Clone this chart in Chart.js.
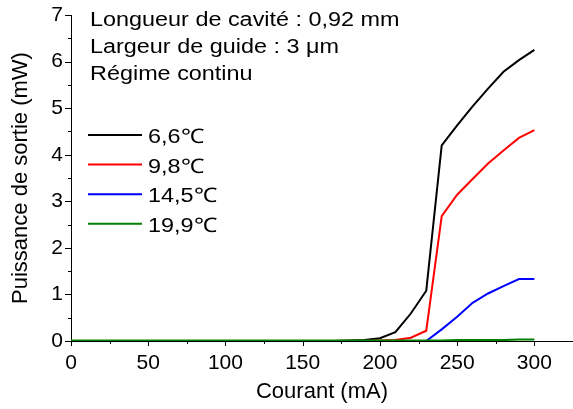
<!DOCTYPE html>
<html>
<head>
<meta charset="utf-8">
<script src="https://cdn.jsdelivr.net/npm/chart.js@4"></script>
<style>
  html, body { margin: 0; padding: 0; background: #fff; }
  #wrap { width: 573px; height: 409px; }
</style>
</head>
<body>
<div id="wrap"><canvas id="powerChart"></canvas></div>
<script>
// Current (mA)
const current = [0, 10, 20, 30, 40, 50, 60, 70, 80, 90, 100, 110, 120, 130, 140, 150,
  160, 170, 180, 190, 200, 210, 220, 230, 240, 250, 260, 270, 280, 290, 300];

// Output power (mW) for each temperature
const p66 = [0, 0, 0, 0, 0, 0, 0, 0, 0, 0, 0, 0, 0, 0, 0, 0,
  0, 0, 0.01, 0.02, 0.06, 0.19, 0.59, 1.08, 4.2, 4.63, 5.04, 5.42, 5.78, 6.03, 6.25];
const p98 = [0, 0, 0, 0, 0, 0, 0, 0, 0, 0, 0, 0, 0, 0, 0, 0,
  0, 0, 0, 0, 0.01, 0.02, 0.07, 0.22, 2.68, 3.14, 3.48, 3.81, 4.09, 4.36, 4.53];
const p145 = [0, 0, 0, 0, 0, 0, 0, 0, 0, 0, 0, 0, 0, 0, 0, 0,
  0, 0, 0, 0, 0, 0, 0, 0, 0.25, 0.52, 0.82, 1.02, 1.18, 1.33, 1.33];
const p199 = [0.01, 0.01, 0.01, 0.01, 0.01, 0.01, 0.01, 0.01, 0.01, 0.01, 0.01, 0.01, 0.01, 0.01, 0.01, 0.01,
  0.01, 0.01, 0.01, 0.01, 0.01, 0.01, 0.01, 0.01, 0.01, 0.02, 0.02, 0.02, 0.02, 0.03, 0.03];

const seriesLabels = ['6,6\u2103', '9,8\u2103', '14,5\u2103', '19,9\u2103'];
const seriesColors = ['#000000', '#ff0000', '#0000ff', '#008000'];

const xTicks = [0, 50, 100, 150, 200, 250, 300];
const xMinorTicks = [25, 75, 125, 175, 225, 275, 325];
const yTicks = [0, 1, 2, 3, 4, 5, 6, 7];
const yMinorTicks = [0.5, 1.5, 2.5, 3.5, 4.5, 5.5, 6.5];

const infoLines = ['Longueur de cavit\u00e9 : 0,92 mm', 'Largeur de guide : 3 \u03bcm', 'R\u00e9gime continu'];

const FONT = "'Liberation Sans', Arial, sans-serif";
const TEXT_STRETCH = 1.17; // the original text is a bit wider than Arial

// draws the tick marks (major + minor) outside the axes
const tickMarks = {
  id: 'tickMarks',
  afterDraw(chart) {
    const c = chart.ctx;
    const xs = chart.scales.x, ys = chart.scales.y;
    const x0 = xs.getPixelForValue(0), y0 = ys.getPixelForValue(0);
    c.save();
    c.strokeStyle = '#000';
    c.lineWidth = 1;
    c.beginPath();
    xTicks.forEach(v => { const px = Math.round(xs.getPixelForValue(v)) + 0.5; c.moveTo(px, y0); c.lineTo(px, y0 + 5); });
    xMinorTicks.forEach(v => { const px = Math.round(xs.getPixelForValue(v)) + 0.5; c.moveTo(px, y0); c.lineTo(px, y0 + 3); });
    yTicks.forEach(v => { const py = Math.round(ys.getPixelForValue(v)) + 0.5; c.moveTo(x0, py); c.lineTo(x0 - 6, py); });
    yMinorTicks.forEach(v => { const py = Math.round(ys.getPixelForValue(v)) + 0.5; c.moveTo(x0, py); c.lineTo(x0 - 3, py); });
    c.stroke();
    c.restore();
  }
};

function wideText(c, text, x, y) {
  c.save();
  c.translate(x, y);
  c.scale(TEXT_STRETCH, 1);
  c.fillText(text, 0, 0);
  c.restore();
}

// text block + legend in the upper left of the plot
const infoAndLegend = {
  id: 'infoAndLegend',
  afterDraw(chart) {
    const c = chart.ctx;
    c.save();
    c.fillStyle = '#000';
    c.textBaseline = 'alphabetic';
    c.font = '20px ' + FONT;
    infoLines.forEach((t, i) => wideText(c, t, 90, 26 + i * 27));
    seriesLabels.forEach((label, i) => {
      const y = 135 + i * 29.6;
      c.strokeStyle = seriesColors[i];
      c.lineWidth = 2;
      c.beginPath();
      c.moveTo(88, y);
      c.lineTo(142, y);
      c.stroke();
      wideText(c, label, 148, y + 8);
    });
    c.restore();
  }
};

const ctx = document.getElementById('powerChart').getContext('2d');

// green last in the list so it is drawn on top, as in the original
const datasets = [p66, p98, p145, p199].map((d, i) => ({
  label: seriesLabels[i],
  data: d.map((v, j) => ({ x: current[j], y: v })),
  borderColor: seriesColors[i],
  backgroundColor: seriesColors[i],
  borderWidth: 2,
  pointRadius: 0,
  tension: 0,
  fill: false
})).reverse();

const chart = new Chart(ctx, {
  type: 'line',
  data: { datasets: datasets },
  options: {
    responsive: true,
    maintainAspectRatio: false,
    animation: false,
    layout: { padding: { top: 15, right: 0, bottom: 0, left: 0 } },
    plugins: {
      legend: { display: false },
      tooltip: { enabled: false }
    },
    scales: {
      x: {
        type: 'linear',
        min: 0,
        max: 325,
        afterBuildTicks: scale => { scale.ticks = xTicks.map(v => ({ value: v })); },
        afterFit: scale => { scale.height = 68; },
        grid: { display: true, drawOnChartArea: false, drawTicks: false },
        border: { display: true, color: '#000', width: 1 },
        ticks: { color: '#000', font: { family: FONT, size: 21 }, padding: 10, maxRotation: 0 },
        title: { display: true, text: 'Courant (mA)', color: '#000', font: { family: FONT, size: 22 }, padding: 4 }
      },
      y: {
        min: 0,
        max: 7,
        afterBuildTicks: scale => { scale.ticks = yTicks.map(v => ({ value: v })); },
        afterFit: scale => { scale.width = 71; scale.paddingTop = 0; },
        grid: { display: true, drawOnChartArea: false, drawTicks: false },
        border: { display: true, color: '#000', width: 1 },
        ticks: { color: '#000', font: { family: FONT, size: 21 }, padding: 8 },
        title: { display: true, text: 'Puissance de sortie (mW)', color: '#000', font: { family: FONT, size: 22 }, padding: 8 }
      }
    }
  },
  plugins: [tickMarks, infoAndLegend]
});
</script>
</body>
</html>
